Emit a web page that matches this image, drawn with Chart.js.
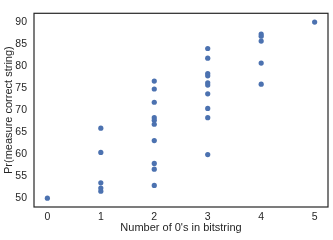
<!DOCTYPE html>
<html>
<head>
<meta charset="utf-8">
<script src="https://cdn.jsdelivr.net/npm/chart.js@4"></script>
<style>
  html, body { margin: 0; padding: 0; background: #fff; }
  #wrap { width: 333px; height: 240px; }
</style>
</head>
<body>
<div id="wrap"><canvas id="chart" width="333" height="240"></canvas></div>
<script>
// number of 0's in the bitstring, one entry per measured bitstring
const zeros = [
  0,
  1, 1, 1, 1, 1,
  2, 2, 2, 2, 2, 2, 2, 2, 2, 2,
  3, 3, 3, 3, 3, 3, 3, 3, 3, 3,
  4, 4, 4, 4, 4,
  5
];
// Pr(measure correct string), in percent
const prCorrect = [
  50.0,
  65.9, 60.4, 53.5, 52.3, 51.6,
  76.6, 74.8, 71.8, 68.3, 67.7, 66.8, 63.1, 57.9, 56.6, 52.9,
  84.0, 81.8, 78.3, 77.8, 76.2, 75.7, 73.7, 70.4, 68.3, 59.9,
  87.3, 86.8, 85.7, 80.7, 75.9,
  90.0
];
const xTicks = [0, 1, 2, 3, 4, 5];
const yTicks = [50, 55, 60, 65, 70, 75, 80, 85, 90];

const ink = '#262626';
const dotColor = '#4c72b0';
const fontFamily = '"Liberation Sans", Arial, "DejaVu Sans", sans-serif';

// matplotlib-style box around the plot area
const frame = {
  id: 'frame',
  afterDatasetsDraw(chart) {
    const {ctx, chartArea: a} = chart;
    ctx.save();
    ctx.strokeStyle = ink;
    ctx.lineWidth = 1.2;
    ctx.strokeRect(a.left, a.top, a.right - a.left, a.bottom - a.top);
    ctx.restore();
  }
};

const points = zeros.map((z, i) => ({x: z, y: prCorrect[i]}));

new Chart(document.getElementById('chart'), {
  type: 'scatter',
  data: {
    datasets: [{
      data: points,
      backgroundColor: dotColor,
      borderColor: dotColor,
      pointRadius: 2.6,
      pointBorderWidth: 0
    }]
  },
  options: {
    responsive: false,
    animation: false,
    layout: {padding: {top: 4, right: 5, left: 0, bottom: 0}},
    plugins: {legend: {display: false}, tooltip: {enabled: false}},
    scales: {
      x: {
        type: 'linear',
        min: xTicks[0] - 0.25,
        max: xTicks[xTicks.length - 1] + 0.25,
        afterFit: s => { s.height = 33; },
        grid: {display: false, drawTicks: false},
        border: {display: false},
        ticks: {
          stepSize: 1,
          includeBounds: false,
          padding: 4,
          color: ink,
          font: {family: fontFamily, size: 10.5}
        },
        title: {
          display: true,
          text: "Number of 0's in bitstring",
          color: ink,
          font: {family: fontFamily, size: 11},
          padding: {top: 0, bottom: 5}
        }
      },
      y: {
        min: yTicks[0] - 2,
        max: yTicks[yTicks.length - 1] + 2,
        afterFit: s => { s.width = 34; },
        grid: {display: false, drawTicks: false},
        border: {display: false},
        ticks: {
          stepSize: 5,
          includeBounds: false,
          padding: 7,
          color: ink,
          font: {family: fontFamily, size: 10.5}
        },
        title: {
          display: true,
          text: 'Pr(measure correct string)',
          color: ink,
          font: {family: fontFamily, size: 11},
          padding: {top: 2.5, bottom: 0}
        }
      }
    }
  },
  plugins: [frame]
});
</script>
</body>
</html>
